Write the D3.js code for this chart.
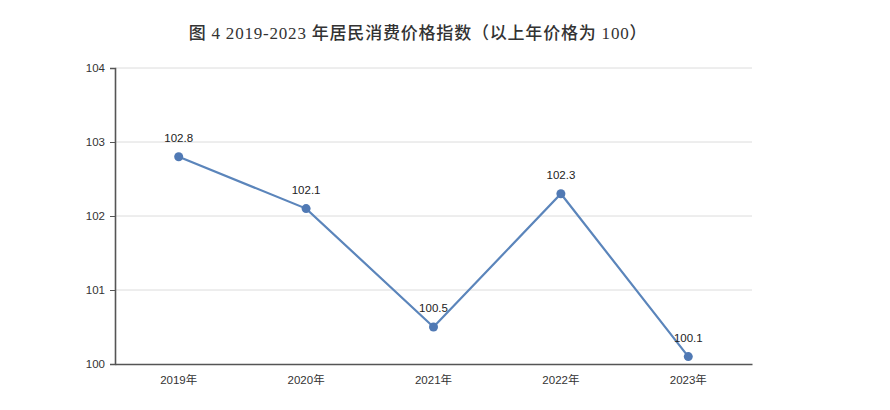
<!DOCTYPE html>
<html><head><meta charset="utf-8">
<script src="https://cdn.jsdelivr.net/npm/d3@7"></script>
<style>body{margin:0;background:#fff}</style>
</head><body>
<svg id="c" width="890" height="410"></svg>
<script>
const categories = ["2019年","2020年","2021年","2022年","2023年"];
const values = [102.8, 102.1, 100.5, 102.3, 100.1];
const yTicks = [100, 101, 102, 103, 104];
const title = "图 4 2019-2023 年居民消费价格指数（以上年价格为 100）";

const svg = d3.select("#c");
const m = {l:115, r:752, t:68, b:364};
const x = d3.scaleBand().domain(categories).range([m.l, m.r]);
const y = d3.scaleLinear().domain([100,104]).range([m.b, m.t]);
const font = "'Liberation Sans','Noto Sans CJK SC',sans-serif";

svg.append("text").attr("x", 418).attr("y", 39).attr("text-anchor","middle")
  .attr("font-family","'Liberation Serif','Noto Sans CJK SC',serif").attr("font-size",17)
  .attr("letter-spacing",0.8).attr("font-weight",500)
  .attr("fill","#333").text(title);

// gridlines
svg.append("g").selectAll("line").data(yTicks.filter(d=>d>100)).join("line")
  .attr("x1", m.l).attr("x2", m.r).attr("y1", d=>y(d)).attr("y2", d=>y(d))
  .attr("stroke","#dcdcdc").attr("stroke-width",1);

// y axis
const ya = svg.append("g").attr("transform",`translate(${m.l},0)`)
  .call(d3.axisLeft(y).tickValues(yTicks).tickSize(5).tickPadding(5).tickFormat(d3.format("d")));
ya.select(".domain").attr("stroke","#555").attr("stroke-width",1.6);
ya.selectAll(".tick line").attr("stroke","#555");
ya.selectAll("text").attr("font-family",font).attr("font-size",11.5).attr("fill","#333");

// x axis
const xa = svg.append("g").attr("transform",`translate(0,${m.b})`)
  .call(d3.axisBottom(x).tickSize(0).tickPadding(12));
xa.select(".domain").attr("stroke","#555").attr("stroke-width",1.6);
xa.selectAll("text").attr("font-family",font).attr("font-size",11.5).attr("fill","#333");

const pts = categories.map((c,i)=>({c, v: values[i]}));
svg.append("path").datum(pts)
  .attr("d", d3.line().x(d=>x(d.c)+x.bandwidth()/2).y(d=>y(d.v)))
  .attr("fill","none").attr("stroke","#5b85bb").attr("stroke-width",2.2);
svg.append("g").selectAll("circle").data(pts).join("circle")
  .attr("cx", d=>x(d.c)+x.bandwidth()/2).attr("cy", d=>y(d.v)).attr("r",4.5)
  .attr("fill","#5079b4");
svg.append("g").selectAll("text").data(pts).join("text")
  .attr("x", d=>x(d.c)+x.bandwidth()/2).attr("y", d=>y(d.v)-15)
  .attr("text-anchor","middle").attr("font-family",font).attr("font-size",11.5).attr("fill","#222")
  .text(d=>d.v.toFixed(1));
</script>
</body></html>
